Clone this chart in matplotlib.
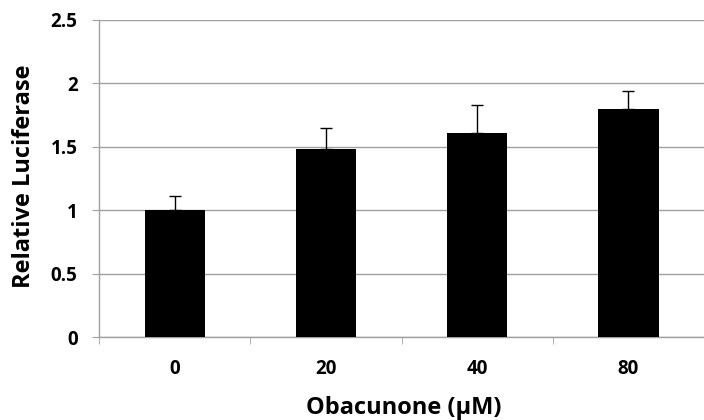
import matplotlib.pyplot as plt
import numpy as np

# data
doses = ["0", "20", "40", "80"]
luciferase = [1.00, 1.48, 1.61, 1.80]
errors = [0.11, 0.165, 0.22, 0.14]
y_ticks = [0, 0.5, 1, 1.5, 2, 2.5]
y_tick_labels = ["0", "0.5", "1", "1.5", "2", "2.5"]

plt.rcParams["font.family"] = ["Open Sans", "DejaVu Sans"]
plt.rcParams["font.weight"] = "bold"

grid_color = "#a0a0a0"

fig = plt.figure(figsize=(7.04, 4.2), dpi=100)
ax = fig.add_axes([0.141, 0.1976, 0.859, 0.7555])

x = np.arange(len(doses))
ax.bar(x, luciferase, width=0.4, color="black", zorder=3)
ax.errorbar(x, luciferase, yerr=[np.zeros(len(errors)), errors], fmt="none",
            ecolor="black", elinewidth=1, capsize=4.5, capthick=1, zorder=4)

ax.set_ylim(0, 2.5)
ax.set_xlim(-0.5, 3.44)
ax.set_yticks(y_ticks)
ax.set_yticklabels(y_tick_labels)
ax.set_xticks(x)
ax.set_xticklabels(doses)
ax.set_xticks(np.arange(len(doses) + 1) - 0.5, minor=True)

ax.yaxis.grid(True, color=grid_color, linewidth=1, zorder=0)
ax.set_axisbelow(True)

for side in ["top", "right"]:
    ax.spines[side].set_visible(False)
for side in ["left", "bottom"]:
    ax.spines[side].set_color(grid_color)
    ax.spines[side].set_linewidth(1)

ax.tick_params(axis="y", direction="out", length=5, color=grid_color,
               labelsize=13.5, pad=10.5)
ax.tick_params(axis="x", which="major", length=0, labelsize=13.5, pad=16)
ax.tick_params(axis="x", which="minor", direction="out", length=5,
               color=grid_color)

fig.text(404 / 704, 6 / 420, "Obacunone (µM)", ha="center", va="baseline",
         fontsize=17, fontweight="bold")
fig.text(24 / 704, 0.58, "Relative Luciferase", rotation=90, ha="center",
         va="center", fontsize=17, fontweight="bold")

fig.savefig("out.png", dpi=100)
